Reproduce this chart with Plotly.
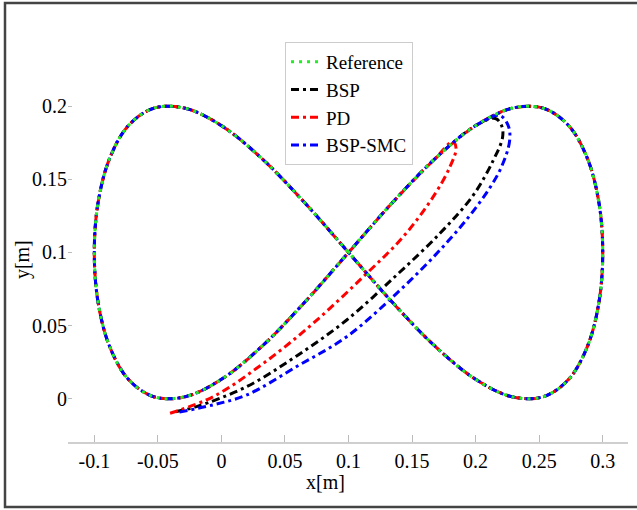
import plotly.graph_objects as go

# Reference figure-eight trajectory (every ~10 degrees of phase)
ref_x = [0.1, 0.1347, 0.1684, 0.2, 0.2286, 0.2532, 0.2732, 0.2879, 0.2970, 0.3,
         0.2970, 0.2879, 0.2732, 0.2532, 0.2286, 0.2, 0.1684, 0.1347, 0.1,
         0.0653, 0.0316, 0.0, -0.0286, -0.0532, -0.0732, -0.0879, -0.0970, -0.1,
         -0.0970, -0.0879, -0.0732, -0.0532, -0.0286, 0.0, 0.0316, 0.0653, 0.1]
ref_y = [0.1, 0.1342, 0.1643, 0.1866, 0.1985, 0.1985, 0.1866, 0.1643, 0.1342, 0.1,
         0.0658, 0.0357, 0.0134, 0.0015, 0.0015, 0.0134, 0.0357, 0.0658, 0.1,
         0.1342, 0.1643, 0.1866, 0.1985, 0.1985, 0.1866, 0.1643, 0.1342, 0.1,
         0.0658, 0.0357, 0.0134, 0.0015, 0.0015, 0.0134, 0.0357, 0.0658, 0.1]

# Transient parts (start at lower left, rise to the upper right, then join the reference)
pd_tr_x = [-0.0404, -0.0063, 0.033, 0.0723, 0.1117, 0.1431, 0.1667, 0.1799, 0.1846, 0.182]
pd_tr_y = [-0.0098, 0.0016, 0.0243, 0.0517, 0.0835, 0.1108, 0.1381, 0.1586, 0.1711, 0.1757]
pd_join = 2

bsp_tr_x = [-0.036, -0.0195, 0.0199, 0.0592, 0.0986, 0.1379, 0.172, 0.1982, 0.214, 0.2212,
            0.2205, 0.2155]
bsp_tr_y = [-0.0087, -0.0052, 0.0084, 0.0294, 0.0539, 0.0846, 0.1131, 0.1392, 0.1631, 0.1785,
            0.1865, 0.1915]
bsp_join = 3

smc_tr_x = [-0.033, -0.0064, 0.0199, 0.0592, 0.0986, 0.1379, 0.172, 0.2008, 0.2192, 0.2268,
            0.2255, 0.219]
smc_tr_y = [-0.0090, -0.0040, 0.0027, 0.0221, 0.0425, 0.0721, 0.1017, 0.1313, 0.1563, 0.1765,
            0.1870, 0.1935]
smc_join = 3

x_tickvals = [-0.1, -0.05, 0, 0.05, 0.1, 0.15, 0.2, 0.25, 0.3]
x_ticktext = ["-0.1", "-0.05", "0", "0.05", "0.1", "0.15", "0.2", "0.25", "0.3"]
y_tickvals = [0, 0.05, 0.1, 0.15, 0.2]
y_ticktext = ["0", "0.05", "0.1", "0.15", "0.2"]


def lap(tr_x, tr_y, k):
    # after the transient, follow the reference backwards for one full loop
    n = len(ref_x) - 1
    idx = list(range(k, -1, -1)) + list(range(n - 1, k - 1, -1))
    xs = list(tr_x) + [ref_x[i] for i in idx]
    ys = list(tr_y) + [ref_y[i] for i in idx]
    return xs, ys


FONT = "Liberation Serif"
DASH = "8px,4px,3px,4px"

fig = go.Figure()
bx, by = lap(bsp_tr_x, bsp_tr_y, bsp_join)
fig.add_trace(go.Scatter(x=bx, y=by, mode="lines", name="BSP", legendrank=2,
                         line=dict(color="black", width=3, dash=DASH, shape="spline")))
px_, py_ = lap(pd_tr_x, pd_tr_y, pd_join)
fig.add_trace(go.Scatter(x=px_, y=py_, mode="lines", name="PD", legendrank=3,
                         line=dict(color="#ff0000", width=3, dash=DASH, shape="spline")))
sx, sy = lap(smc_tr_x, smc_tr_y, smc_join)
fig.add_trace(go.Scatter(x=sx, y=sy, mode="lines", name="BSP-SMC", legendrank=4,
                         line=dict(color="#0000ff", width=3, dash=DASH, shape="spline")))
fig.add_trace(go.Scatter(x=ref_x, y=ref_y, mode="lines", name="Reference", legendrank=1,
                         line=dict(color="#22ee22", width=3, dash="3px,5px", shape="spline")))

fig.update_layout(
    width=637, height=510,
    margin=dict(l=68, r=9, t=30, b=68),
    paper_bgcolor="white", plot_bgcolor="white",
    font=dict(family=FONT, size=20, color="black"),
    showlegend=True,
    legend=dict(x=0.3875, y=0.971, xanchor="left", yanchor="top",
                bgcolor="white", bordercolor="#cccccc", borderwidth=1,
                font=dict(family=FONT, size=19, color="black"), itemwidth=30,
                tracegroupgap=0, traceorder="normal"),
    xaxis=dict(range=[-0.1207, 0.3199], tickvals=x_tickvals, ticktext=x_ticktext,
               showgrid=False, zeroline=False, showline=True, linecolor="#cfcfcf",
               linewidth=1.5, ticks="inside", ticklen=7, tickcolor="#bbbbbb",
               tickfont=dict(family=FONT, size=20, color="black")),
    yaxis=dict(range=[-0.0294, 0.2519], tickvals=y_tickvals, ticktext=y_ticktext,
               showgrid=False, zeroline=False, showline=False,
               ticks="inside", ticklen=4, tickcolor="#bbbbbb",
               tickfont=dict(family=FONT, size=20, color="black")),
    annotations=[
        dict(text="x[m]", xref="paper", yref="paper", x=0.459, y=-0.097,
             showarrow=False, xanchor="center", yanchor="middle",
             font=dict(family=FONT, size=20, color="black")),
        dict(text="y[m]", xref="paper", yref="paper", x=-0.082, y=0.4417,
             showarrow=False, xanchor="center", yanchor="middle", textangle=-90,
             font=dict(family=FONT, size=20, color="black")),
    ],
    shapes=[dict(type="rect", xref="paper", yref="paper",
                 x0=-0.1125, x1=1.0214, y0=-0.1578, y1=1.0655,
                 line=dict(color="#444444", width=2.5), layer="below")],
)

fig.write_html("out.html", config={"displayModeBar": False},
               post_script="document.body.style.margin='0';document.body.style.padding='0';")
